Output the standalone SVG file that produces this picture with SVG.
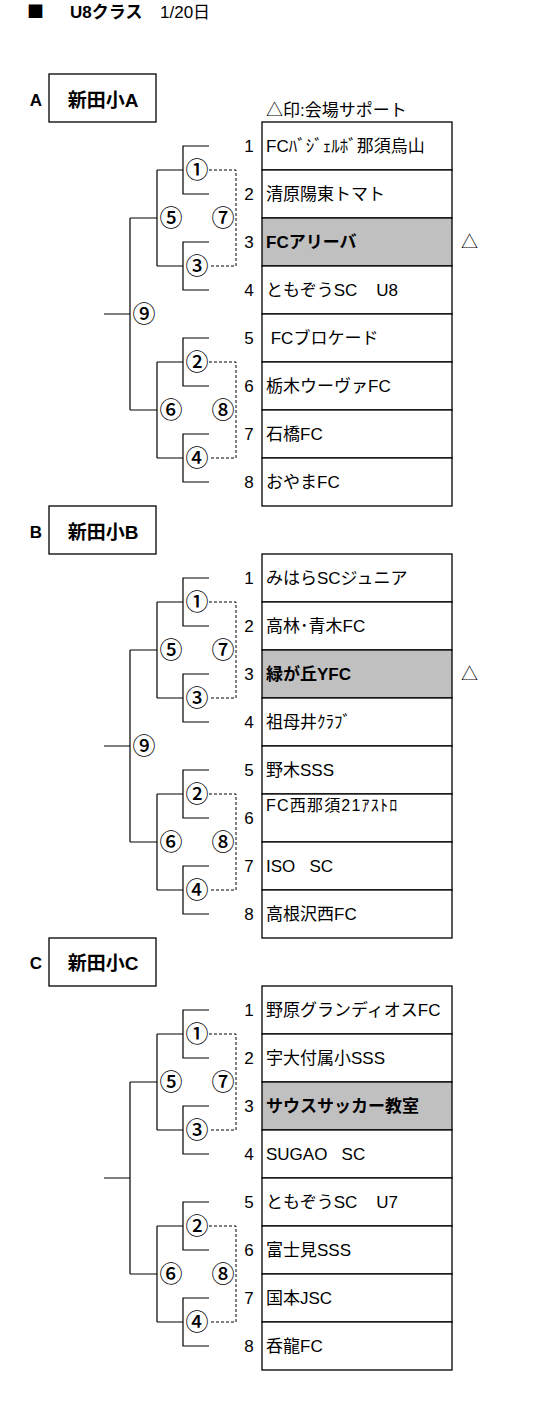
<svg xmlns="http://www.w3.org/2000/svg" width="537" height="1402" viewBox="0 0 537 1402">
<style>
.bg{fill:#fff}
.cell{fill:#fff;stroke:#000;stroke-width:1.3}
.hl{fill:#c0c0c0}
.t{font-family:"Liberation Sans","Noto Sans CJK JP",sans-serif;font-size:17px;fill:#000}
.b{font-weight:bold}
.c{text-anchor:middle}
.mk{font-family:"Noto Sans CJK JP",sans-serif;font-size:23px;font-weight:500;text-anchor:middle;fill:#000}
.box{fill:#fff;stroke:#000;stroke-width:1.3}
.ln{fill:none;stroke:#000;stroke-width:1.2}
.dl{fill:none;stroke:#000;stroke-width:1;stroke-dasharray:3 2}
</style>
<rect class="bg" x="0" y="0" width="537" height="1402"/>
<g id="header">
<text x="27" y="18" style="font-family:'Noto Sans CJK JP',sans-serif;font-size:17px">■</text>
<text class="t b" x="70" y="18">U8クラス</text>
<text class="t" x="160" y="18">1/20日</text>
</g>
<g id="note"><text class="t" x="266" y="116">△印:会場サポート</text></g>

<!-- Section A -->
<g id="groupA">
<text class="t b c" x="36" y="106">A</text>
<rect class="box" x="49" y="74" width="107" height="48"/>
<text class="t b c" x="103" y="107" style="font-size:19px">新田小A</text>
</g>
<g id="A-t1"><rect class="cell" x="262" y="122" width="190" height="48"/><text class="t c" x="249" y="152">1</text><text class="t" x="266" y="152">FCﾊﾞｼﾞｪﾙﾎﾞ那須烏山</text></g>
<g id="A-t2"><rect class="cell" x="262" y="170" width="190" height="48"/><text class="t c" x="249" y="200">2</text><text class="t" x="266" y="200">清原陽東トマト</text></g>
<g id="A-t3"><rect class="cell hl" x="262" y="218" width="190" height="48"/><text class="t c" x="249" y="248">3</text><text class="t b" x="266" y="248">FCアリーバ</text><text class="t" x="461" y="248">△</text></g>
<g id="A-t4"><rect class="cell" x="262" y="266" width="190" height="48"/><text class="t c" x="249" y="296">4</text><text class="t" x="266" y="296" xml:space="preserve">ともぞうSC    U8</text></g>
<g id="A-t5"><rect class="cell" x="262" y="314" width="190" height="48"/><text class="t c" x="249" y="344">5</text><text class="t" x="266" y="344" xml:space="preserve"> FCブロケード</text></g>
<g id="A-t6"><rect class="cell" x="262" y="362" width="190" height="48"/><text class="t c" x="249" y="392">6</text><text class="t" x="266" y="392">栃木ウーヴァFC</text></g>
<g id="A-t7"><rect class="cell" x="262" y="410" width="190" height="48"/><text class="t c" x="249" y="440">7</text><text class="t" x="266" y="440">石橋FC</text></g>
<g id="A-t8"><rect class="cell" x="262" y="458" width="190" height="48"/><text class="t c" x="249" y="488">8</text><text class="t" x="266" y="488">おやまFC</text></g>
<g id="A-m1"><text class="mk" x="197" y="178.2">①</text></g>
<g id="A-m3"><text class="mk" x="197" y="274.2">③</text></g>
<g id="A-m2"><text class="mk" x="197" y="370.2">②</text></g>
<g id="A-m4"><text class="mk" x="197" y="466.2">④</text></g>
<g id="A-m5"><text class="mk" x="171" y="226.2">⑤</text></g>
<g id="A-m6"><text class="mk" x="171" y="418.2">⑥</text></g>
<g id="A-m7"><text class="mk" x="223" y="226.2">⑦</text></g>
<g id="A-m8"><text class="mk" x="223" y="418.2">⑧</text></g>
<g id="A-m9"><text class="mk" x="144" y="322.2">⑨</text></g>

<!-- Section B -->
<g id="groupB">
<text class="t b c" x="36" y="538">B</text>
<rect class="box" x="49" y="506" width="107" height="48"/>
<text class="t b c" x="103" y="539" style="font-size:19px">新田小B</text>
</g>
<g id="B-t1"><rect class="cell" x="262" y="554" width="190" height="48"/><text class="t c" x="249" y="584">1</text><text class="t" x="266" y="584">みはらSCジュニア</text></g>
<g id="B-t2"><rect class="cell" x="262" y="602" width="190" height="48"/><text class="t c" x="249" y="632">2</text><text class="t" x="266" y="632">高林･青木FC</text></g>
<g id="B-t3"><rect class="cell hl" x="262" y="650" width="190" height="48"/><text class="t c" x="249" y="680">3</text><text class="t b" x="266" y="680">緑が丘YFC</text><text class="t" x="461" y="680">△</text></g>
<g id="B-t4"><rect class="cell" x="262" y="698" width="190" height="48"/><text class="t c" x="249" y="728">4</text><text class="t" x="266" y="728">祖母井ｸﾗﾌﾞ</text></g>
<g id="B-t5"><rect class="cell" x="262" y="746" width="190" height="48"/><text class="t c" x="249" y="776">5</text><text class="t" x="266" y="776">野木SSS</text></g>
<g id="B-t6"><rect class="cell" x="262" y="794" width="190" height="48"/><text class="t c" x="249" y="824">6</text><text class="t" x="266" y="810.5" style="font-size:16px;letter-spacing:1.2px">FC西那須21ｱｽﾄﾛ</text></g>
<g id="B-t7"><rect class="cell" x="262" y="842" width="190" height="48"/><text class="t c" x="249" y="872">7</text><text class="t" x="266" y="872" xml:space="preserve">ISO   SC</text></g>
<g id="B-t8"><rect class="cell" x="262" y="890" width="190" height="48"/><text class="t c" x="249" y="920">8</text><text class="t" x="266" y="920">高根沢西FC</text></g>
<g id="B-m1"><text class="mk" x="197" y="610.2">①</text></g>
<g id="B-m3"><text class="mk" x="197" y="706.2">③</text></g>
<g id="B-m2"><text class="mk" x="197" y="802.2">②</text></g>
<g id="B-m4"><text class="mk" x="197" y="898.2">④</text></g>
<g id="B-m5"><text class="mk" x="171" y="658.2">⑤</text></g>
<g id="B-m6"><text class="mk" x="171" y="850.2">⑥</text></g>
<g id="B-m7"><text class="mk" x="223" y="658.2">⑦</text></g>
<g id="B-m8"><text class="mk" x="223" y="850.2">⑧</text></g>
<g id="B-m9"><text class="mk" x="144" y="754.2">⑨</text></g>

<!-- Section C -->
<g id="groupC">
<text class="t b c" x="36" y="969">C</text>
<rect class="box" x="49" y="938" width="107" height="48"/>
<text class="t b c" x="103" y="970" style="font-size:19px">新田小C</text>
</g>
<g id="C-t1"><rect class="cell" x="262" y="986" width="190" height="48"/><text class="t c" x="249" y="1016">1</text><text class="t" x="266" y="1016">野原グランディオスFC</text></g>
<g id="C-t2"><rect class="cell" x="262" y="1034" width="190" height="48"/><text class="t c" x="249" y="1064">2</text><text class="t" x="266" y="1064">宇大付属小SSS</text></g>
<g id="C-t3"><rect class="cell hl" x="262" y="1082" width="190" height="48"/><text class="t c" x="249" y="1112">3</text><text class="t b" x="266" y="1112">サウスサッカー教室</text></g>
<g id="C-t4"><rect class="cell" x="262" y="1130" width="190" height="48"/><text class="t c" x="249" y="1160">4</text><text class="t" x="266" y="1160" xml:space="preserve">SUGAO   SC</text></g>
<g id="C-t5"><rect class="cell" x="262" y="1178" width="190" height="48"/><text class="t c" x="249" y="1208">5</text><text class="t" x="266" y="1208" xml:space="preserve">ともぞうSC    U7</text></g>
<g id="C-t6"><rect class="cell" x="262" y="1226" width="190" height="48"/><text class="t c" x="249" y="1256">6</text><text class="t" x="266" y="1256">富士見SSS</text></g>
<g id="C-t7"><rect class="cell" x="262" y="1274" width="190" height="48"/><text class="t c" x="249" y="1304">7</text><text class="t" x="266" y="1304">国本JSC</text></g>
<g id="C-t8"><rect class="cell" x="262" y="1322" width="190" height="48"/><text class="t c" x="249" y="1352">8</text><text class="t" x="266" y="1352">呑龍FC</text></g>
<g id="C-m1"><text class="mk" x="197" y="1042.2">①</text></g>
<g id="C-m3"><text class="mk" x="197" y="1138.2">③</text></g>
<g id="C-m2"><text class="mk" x="197" y="1234.2">②</text></g>
<g id="C-m4"><text class="mk" x="197" y="1330.2">④</text></g>
<g id="C-m5"><text class="mk" x="171" y="1090.2">⑤</text></g>
<g id="C-m6"><text class="mk" x="171" y="1282.2">⑥</text></g>
<g id="C-m7"><text class="mk" x="223" y="1090.2">⑦</text></g>
<g id="C-m8"><text class="mk" x="223" y="1282.2">⑧</text></g>

<g id="connectors">
<path class="ln" d="M209 146H183V194H209M183 170H157M209 242H183V290H209M183 266H157M209 338H183V386H209M183 362H157M209 434H183V482H209M183 458H157M157 170V266M157 218H130M157 362V458M157 410H130M130 218V410M130 314H104"/>
<path class="dl" d="M209 170H236V266H209M209 362H236V458H209"/>
<path class="ln" d="M209 578H183V626H209M183 602H157M209 674H183V722H209M183 698H157M209 770H183V818H209M183 794H157M209 866H183V914H209M183 890H157M157 602V698M157 650H130M157 794V890M157 842H130M130 650V842M130 746H104"/>
<path class="dl" d="M209 602H236V698H209M209 794H236V890H209"/>
<path class="ln" d="M209 1010H183V1058H209M183 1034H157M209 1106H183V1154H209M183 1130H157M209 1202H183V1250H209M183 1226H157M209 1298H183V1346H209M183 1322H157M157 1034V1130M157 1082H130M157 1226V1322M157 1274H130M130 1082V1274M130 1178H104"/>
<path class="dl" d="M209 1034H236V1130H209M209 1226H236V1322H209"/>
</g>
</svg>
